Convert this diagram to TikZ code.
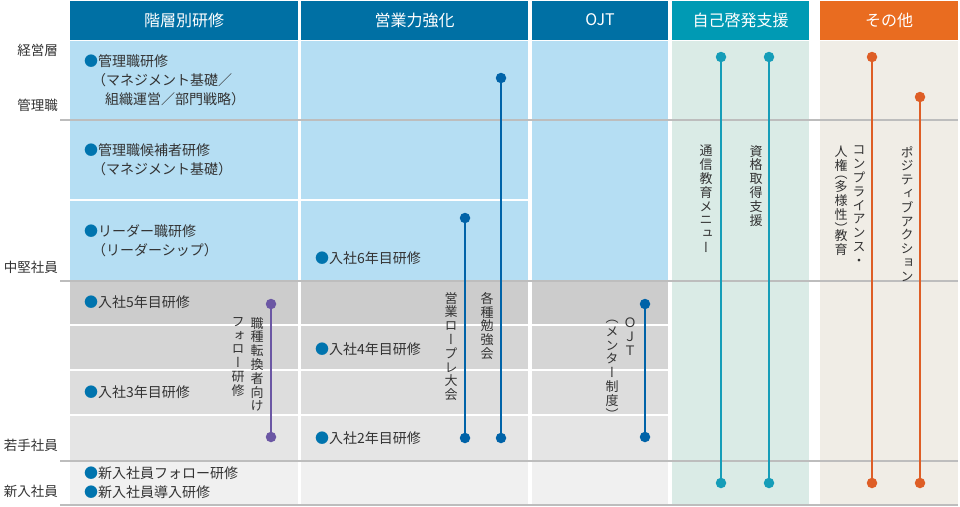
\documentclass[tikz,border=0pt]{standalone}
\usepackage{fontspec}
\setmainfont{Noto Sans CJK JP}
\newfontfamily\tatefont[RawFeature=+vert]{Noto Sans CJK JP}
\definecolor{hblue}{HTML}{0070A4}
\definecolor{hteal}{HTML}{009AB4}
\definecolor{horange}{HTML}{E96C20}
\definecolor{bblue}{HTML}{B5DEF3}
\definecolor{bteal}{HTML}{DAEBE6}
\definecolor{bbeige}{HTML}{F0EDE6}
\definecolor{gA}{HTML}{CCCCCC}
\definecolor{gB}{HTML}{D5D5D5}
\definecolor{gC}{HTML}{DDDDDD}
\definecolor{gD}{HTML}{E5E5E5}
\definecolor{gE}{HTML}{F0F0F0}
\definecolor{gline}{HTML}{BDBDBD}
\definecolor{txt}{HTML}{333333}
\definecolor{dotblue}{HTML}{0074AE}
\definecolor{lblue}{HTML}{0063A8}
\definecolor{lpurple}{HTML}{6B57A4}
\definecolor{lteal}{HTML}{159DB8}
\definecolor{lorange}{HTML}{DE5E26}
\makeatletter
\def\vs@op{（}
\def\vs@cp{）}
\newcommand\vstack[1]{\vbox{\baselineskip=13.8pt\lineskiplimit=-20pt\lineskip=0pt
  \@tfor\vs@c:=#1\do{%
    \ifx\vs@c\vs@op
      \vskip-6.2pt\hbox to 13pt{\hss\vs@c\hss}%
    \else\ifx\vs@c\vs@cp
      \hbox to 13pt{\hss\vs@c\hss}\vskip-6.2pt
    \else
      \hbox to 13pt{\hss\vs@c\hss}%
    \fi\fi}}}
\makeatother
\newcommand\bul{{\color{dotblue}●}}
\tikzset{
  hdrtext/.style={text=white, inner sep=0, font=\fontsize{16}{18}\selectfont},
  lbl/.style={anchor=east, inner sep=0, text=txt, font=\fontsize{13.5}{15}\selectfont},
  item/.style={anchor=west, inner sep=0, text=txt, font=\fontsize{14}{16}\selectfont},
  vt/.style={anchor=north, inner sep=0, text=txt, font=\tatefont\fontsize{13}{14}\selectfont},
  pin/.style={circle, fill=#1, inner sep=0, minimum size=10.5pt},
  bar/.style={draw=#1, line width=2pt},
  sepline/.style={draw=gline, line width=1.5pt},
  wline/.style={draw=white, line width=1.5pt}
}
\begin{document}
\begin{tikzpicture}[x=1pt,y=-1pt]
\useasboundingbox (0,0) rectangle (960,506);
% headers
\fill[hblue] (70,1) rectangle (298,39.5);
\fill[hblue] (301,1) rectangle (528,39.5);
\fill[hblue] (532,1) rectangle (668,39.5);
\fill[hteal] (672,1) rectangle (809,39.5);
\fill[horange] (820,1) rectangle (958,39.5);
\node[hdrtext] (h1) at (184,20) {階層別研修};
\node[hdrtext] (h2) at (414.5,20) {営業力強化};
\node[hdrtext] (h3) at (600,20) {OJT};
\node[hdrtext] (h4) at (740.5,20) {自己啓発支援};
\node[hdrtext] (h5) at (889,20) {その他};
% bodies
\foreach \xa/\xb in {70/298, 301/528, 532/668}{
  \fill[bblue] (\xa,40.5) rectangle (\xb,281);
  \fill[gA] (\xa,281) rectangle (\xb,325);
  \fill[gB] (\xa,325) rectangle (\xb,370);
  \fill[gC] (\xa,370) rectangle (\xb,415);
  \fill[gD] (\xa,415) rectangle (\xb,461);
  \fill[gE] (\xa,461) rectangle (\xb,505);
  \draw[wline] (\xa,325) -- (\xb,325);
  \draw[wline] (\xa,370) -- (\xb,370);
  \draw[wline] (\xa,415) -- (\xb,415);
}
\draw[wline] (70,200) -- (298,200);
\draw[wline] (301,200) -- (528,200);
\fill[bteal] (672,40.5) rectangle (809,505);
\fill[bbeige] (820,40.5) rectangle (958,505);
\foreach \yy in {120,281,461,505}{ \draw[sepline] (60,\yy) -- (958,\yy); }
% left labels
\node[lbl] (l1) at (58,50) {経営層};
\node[lbl] (l2) at (58,105) {管理職};
\node[lbl] (l3) at (58,267) {中堅社員};
\node[lbl] (l4) at (58,445) {若手社員};
\node[lbl] (l5) at (58,491) {新入社員};
% column 1 items
\node[item] (a1) at (84,61) {\bul 管理職研修};
\node[item] (a1b) at (92,80) {（マネジメント基礎／};
\node[item] (a1c) at (105,99) {組織運営／部門戦略）};
\node[item] (a2) at (84,150) {\bul 管理職候補者研修};
\node[item] (a2b) at (92,169) {（マネジメント基礎）};
\node[item] (a3) at (84,231) {\bul リーダー職研修};
\node[item] (a3b) at (92,250) {（リーダーシップ）};
\node[item] (a4) at (84,302) {\bul 入社5年目研修};
\node[item] (a5) at (84,392) {\bul 入社3年目研修};
\node[item] (a6) at (84,473.5) {\bul 新入社員フォロー研修};
\node[item] (a7) at (84,492.5) {\bul 新入社員導入研修};
% column 2 items
\node[item] (b1) at (315,258) {\bul 入社6年目研修};
\node[item] (b2) at (315,349) {\bul 入社4年目研修};
\node[item] (b3) at (315,438) {\bul 入社2年目研修};
% vertical texts
\node[vt] (v1) at (257,317) {\vstack{職種転換者向け}};
\node[vt] (v2) at (238,317) {\vstack{フォロー研修}};
\node[vt] (v3) at (451,292) {\vstack{営業ロープレ大会}};
\node[vt] (v4) at (487,292) {\vstack{各種勉強会}};
\node[vt] (v5) at (630,318) {\vstack{ＯＪＴ}};
\node[vt] (v6) at (612,326) {\vstack{（メンター制度）}};
\node[vt] (v7) at (706,145) {\vstack{通信教育メニュー}};
\node[vt] (v8) at (756,145) {\vstack{資格取得支援}};
\node[vt] (v9) at (859,146) {\vstack{コンプライアンス・}};
\node[vt] (v10) at (841,146) {\vstack{人権（多様性）教育}};
\node[vt] (v11) at (907,146) {\vstack{ポジティブアクション}};
% pins and bars
\node[pin=lpurple] (pa) at (271,304) {};
\node[pin=lpurple] (pb) at (271,437) {};
\draw[bar=lpurple] (pa) -- (pb);
\node[pin=lblue] (qa) at (465,218) {};
\node[pin=lblue] (qb) at (465,438) {};
\draw[bar=lblue] (qa) -- (qb);
\node[pin=lblue] (ra) at (501,78) {};
\node[pin=lblue] (rb) at (501,438) {};
\draw[bar=lblue] (ra) -- (rb);
\node[pin=lblue] (sa) at (645,304) {};
\node[pin=lblue] (sb) at (645,437) {};
\draw[bar=lblue] (sa) -- (sb);
\node[pin=lteal] (ta) at (721,57) {};
\node[pin=lteal] (tb) at (721,483) {};
\draw[bar=lteal] (ta) -- (tb);
\node[pin=lteal] (ua) at (769,57) {};
\node[pin=lteal] (ub) at (769,483) {};
\draw[bar=lteal] (ua) -- (ub);
\node[pin=lorange] (wa) at (872,57) {};
\node[pin=lorange] (wb) at (872,483) {};
\draw[bar=lorange] (wa) -- (wb);
\node[pin=lorange] (za) at (920,97) {};
\node[pin=lorange] (zb) at (920,483) {};
\draw[bar=lorange] (za) -- (zb);
\end{tikzpicture}
\end{document}
